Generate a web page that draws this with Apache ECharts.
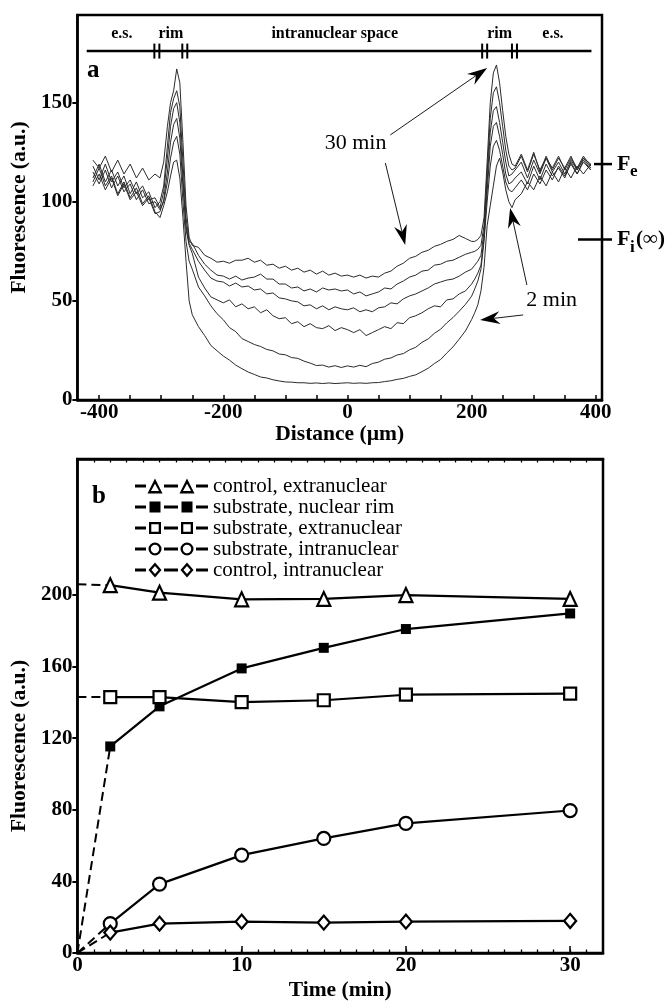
<!DOCTYPE html>
<html><head><meta charset="utf-8">
<script src="https://cdn.jsdelivr.net/npm/echarts@6/dist/echarts.min.js"></script>
<style>html,body{margin:0;padding:0;background:#fff}#c{width:669px;height:1002px}</style>
</head><body><div id="c"></div>
<script>
// ---------- Panel a: fluorescence profiles ----------
const distance = [-410,-400,-390,-380,-370,-360,-350,-340,-330,-320,-310,
  -302,-296,-290,-285,-280,-275,-270,-265,-260,-255,-250,
  -240,-230,-220,-210,-200,-190,-180,-170,-160,-150,-140,-130,-120,-110,-100,-90,-80,-70,-60,-50,-40,-30,-20,-10,0,10,20,30,40,50,60,70,80,90,100,110,120,130,140,150,160,170,180,190,200,
  205,210,215,220,225,230,235,240,245,250,255,260,265,270,
  280,290,300,310,320,330,340,350,360,370,380,392];
const trace2min = [110,117,108,113,104,110,102,107,99,103,95,
  92,98,105,113,120,121,112,92,70,50,43,
  37,32.5,27.5,24.8,22.2,20.1,17.6,15.8,14.1,12.9,11.6,11.1,10.2,9.6,9.1,9.0,8.7,8.7,8.4,8.6,8.3,8.6,8.3,8.5,8.7,8.4,8.6,8.4,8.7,8.8,9.3,9.7,10.4,10.9,11.9,12.7,14.3,16.0,18.4,20.4,23.7,26.8,30.7,34.8,40.6,
  44,48,55,67,88,98,108,118,122,115,106,100,97,101,
  104,110,106,113,108,115,110,117,112,118,114,119];
const trace5min = [115,109,116,107,113,105,109,101,106,99,100,
  96,100,110,122,130,133,124,100,80,70,66,
  57,52.5,47.5,43.5,40.5,36.5,34.5,31,29.5,28,27,25.5,24.8,23.2,22.8,21.4,21,19.6,18.6,17.4,17.6,16.6,17.3,16.4,17.2,16.6,17.5,16.8,18.4,19.1,20.6,21.2,22.7,23.4,25.3,26.6,29.1,30.8,33.6,35.7,38.9,41.6,44.8,48.2,52.4,
  56,60,66,80,100,118,128,131,126,118,110,106,105,107,
  111,106,114,109,116,111,118,113,119,114,120,116];
const trace10min = [108,114,106,112,103,109,101,105,98,102,94,
  95,101,115,130,139,142,132,108,86,78,74,
  62,56.5,52,50.5,49,50.5,47,48.5,46,47,44,45.5,42.5,41,41.5,38.5,39.5,37,38.5,36.5,36,37.5,35,36.5,35.5,34,35.5,32.5,34,35.5,37,36,39,38.5,41.5,42.5,44,46,47.5,47,50.5,51,53.5,55,58.5,
  61,64,68,82,105,128,138,140,133,124,114,109,110,112,
  115,109,118,111,119,113,117,112,120,114,121,116];
const trace15min = [118,111,119,110,115,107,111,104,108,101,102,
  97,105,122,138,147,150,140,112,88,79,76,
  70,65.5,61.5,60,59.5,57.5,59,57,57.5,55.5,56,53.5,54,51.5,51,50,49.5,47.5,48,46,47.5,45.5,47,46,45.5,46.5,44.5,45.5,44.5,46.5,47,49,48.5,51,52.5,53.5,55,56.5,58.5,59.5,60.5,61,62.5,64.5,66,
  68,70,73,85,110,135,146,148,140,130,120,113,114,116,
  120,112,121,114,122,115,120,114,121,116,122,117];
const trace20min = [112,119,110,116,108,113,104,110,102,105,97,
  100,108,128,145,152,156,148,120,92,80,79,
  73,68.5,65.5,63,62.5,61,62.5,60.5,61.5,62,63.5,61,61,58.5,58.5,56.5,57,55,56,54.5,56.5,55.5,56,55,55.5,53.5,54.5,52.5,53.5,54.5,56.5,56,58.5,60,62,63,65,65.5,68,68.5,70,70.5,72,73.5,74.5,
  75,76,78,88,115,142,155,158,150,138,126,118,116,117,
  123,115,124,116,122,117,123,116,122,117,123,118];
const trace30min = [121,117,123,115,121,114,119,112,117,111,114,
  112,120,138,150,156,167,160,130,98,82,78,
  77,73,71.5,69.5,70,69,70.5,70.5,71.5,69.5,70.5,68,68.5,66.5,67.5,65.5,66.5,64.5,65.5,63.5,65,63,64,62.5,63,62,63,61.5,62.5,62,64,65,67.5,69,71.5,72.5,74.5,75.5,77.5,78.5,80,81,83,81.5,80,
  80,81,83,92,120,150,165,169,160,146,133,124,119,118,
  124,116,125,115,123,116,122,117,123,116,122,119];
const traceNames = ['2 min','5 min','10 min','15 min','20 min','30 min'];
const distanceLabels = [-400,-200,0,200,400];
const distanceTickMarks = [-400,-350,-300,-250,-200,-150,-100,-50,0,50,100,150,200,250,300,350,400];
const fluorLabelsA = [0,50,100,150];
const regionBounds = [-420,-307,-262,221,269,393];
const regionLabels = ['e.s.','rim','intranuclear space','rim','e.s.'];
const regionLevel = 176;
const refLevels = [119, 81];
const refLabels = [['F','e',''],['F','i','(\u221E)']];
const arrowLines = [[69,133.7,225,167.5],[61,119.6,93,78.2],[289,58,262,96.9],[283,42.9,213.6,40.4]];
const arrowTexts = [[13,129.7,'30 min'],[329,50.5,'2 min']];

// ---------- Panel b: time courses ----------
const times = [2,5,10,15,20,30];
const controlExtra = [205.5,201.3,197.6,197.8,200,197.8];
const nuclearRim = [115.4,137.8,159,170.5,181,189.7];
const substrateExtra = [143,143,140.2,141.2,144.3,144.9];
const substrateIntra = [16.4,38.5,54.7,64,72.4,79.6];
const controlIntra = [11.4,16.4,17.5,17,17.5,17.9];
const valuesAtZero = [206,0,143,0,0];
const bNames = ['control, extranuclear','substrate, nuclear rim','substrate, extranuclear','substrate, intranuclear','control, intranuclear'];
const timeLabels = [0,10,20,30];
const timeMinor = [0,1,2,3,4,5,6,7,8,9,10,11,12,13,14,15,16,17,18,19,20,21,22,23,24,25,26,27,28,29,30,31];
const fluorLabelsB = [0,40,80,120,160,200];

// ---------- styling / layout ----------
const SERIF = '"Liberation Serif","Times New Roman",serif';
const X_A = [-435, 410], Y_A = [0, 194.2], X_B = [0, 32], Y_B = [0, 276];
const traces = [trace2min,trace5min,trace10min,trace15min,trace20min,trace30min];
const bValues = [controlExtra,nuclearRim,substrateExtra,substrateIntra,controlIntra];
const bSym = [
  {symbol:'triangle', size:[13,14], fill:'#fff'},
  {symbol:'rect', size:10, fill:'#000'},
  {symbol:'rect', size:12, fill:'#fff'},
  {symbol:'circle', size:13, fill:'#fff'},
  {symbol:'diamond', size:[12,14], fill:'#fff'}
];
// legend icons: "-S-S-" dashes with two markers (ring paths for hollow markers)
function dashes(){ return 'M0 6H11V9H0Z M29 6H43V9H29Z M61 6H73V9H61Z '; }
function triP(c){ return `M${c} 0L${c+7.5} 15L${c-7.5} 15Z M${c} 5.3L${c-4} 12.6L${c+4} 12.6Z `; }
function sqF(c){ return `M${c-5.5} 2H${c+5.5}V13H${c-5.5}Z `; }
function sqO(c){ return `M${c-6} 1.5H${c+6}V13.5H${c-6}Z M${c-3.7} 3.8V11.2H${c+3.7}V3.8Z `; }
function cirP(c){ return `M${c-6.5} 7.5A6.5 6.5 0 1 1 ${c+6.5} 7.5A6.5 6.5 0 1 1 ${c-6.5} 7.5Z M${c-4.2} 7.5A4.2 4.2 0 1 0 ${c+4.2} 7.5A4.2 4.2 0 1 0 ${c-4.2} 7.5Z `; }
function diaP(c){ return `M${c} 0L${c+6.5} 7.5L${c} 15L${c-6.5} 7.5Z M${c} 3.4L${c-3.5} 7.5L${c} 11.6L${c+3.5} 7.5Z `; }
const iconFns = [triP, sqF, sqO, cirP, diaP];
const icons = iconFns.map(f => 'path://' + dashes() + f(20) + f(52));

const txt = (text, x, y, font, align, valign) => ({type:'text', style:{text, x, y, font, fill:'#000', align, verticalAlign:valign, textAlign:align, textVerticalAlign:valign}});

const series = [];
traces.forEach((vals, i) => {
  series.push({type:'line', name:traceNames[i], xAxisIndex:0, yAxisIndex:0,
    data: distance.map((d, j) => [d, vals[j]]), symbol:'none', silent:true,
    lineStyle:{color:'#2b2b2b', width:1}, z:2});
});
// region bar
series.push({type:'custom', xAxisIndex:0, yAxisIndex:0, data:[[0, regionLevel]], clip:false, silent:true, z:6,
  renderItem(params, api){
    const ch = [];
    const p0 = api.coord([regionBounds[0], regionLevel]);
    const p1 = api.coord([regionBounds[regionBounds.length-1], regionLevel]);
    ch.push({type:'line', shape:{x1:p0[0], y1:p0[1], x2:p1[0], y2:p1[1]}, style:{stroke:'#000', lineWidth:2.5}});
    for (let i = 1; i < regionBounds.length-1; i++){
      const bx = api.coord([regionBounds[i], regionLevel])[0];
      [-2.5, 2.5].forEach(d => ch.push({type:'line', shape:{x1:bx+d, y1:p0[1]-7.5, x2:bx+d, y2:p0[1]+7.5}, style:{stroke:'#000', lineWidth:2}}));
    }
    for (let i = 0; i < regionLabels.length; i++){
      const cx = api.coord([(regionBounds[i]+regionBounds[i+1])/2, regionLevel])[0];
      ch.push(txt(regionLabels[i], cx, p0[1]-17, 'bold 16px ' + SERIF, 'center', 'middle'));
    }
    return {type:'group', children:ch};
  }});
// reference levels on the right
series.push({type:'custom', xAxisIndex:0, yAxisIndex:0, data: refLevels.map(v => [X_A[1], v]), clip:false, silent:true, z:6,
  renderItem(params, api){
    const p = api.coord([api.value(0), api.value(1)]);
    const i = params.dataIndex; const lab = refLabels[i];
    const left = i === 0 ? 8 : 24;
    return {type:'group', children:[
      {type:'line', shape:{x1:p[0]-left, y1:p[1], x2:p[0]+10, y2:p[1]}, style:{stroke:'#000', lineWidth:2.5}},
      txt(lab[0], p[0]+15, p[1], 'bold 22px ' + SERIF, 'left', 'middle'),
      txt(lab[1], p[0]+28, p[1]+8, 'bold 17px ' + SERIF, 'left', 'middle'),
      txt(lab[2], p[0]+34, p[1], 'bold 21px ' + SERIF, 'left', 'middle')
    ]};
  }});
// arrows
series.push({type:'custom', xAxisIndex:0, yAxisIndex:0, data: arrowLines, clip:false, silent:true, z:7,
  renderItem(params, api){
    const s = api.coord([api.value(0), api.value(1)]);
    const t = api.coord([api.value(2), api.value(3)]);
    const dx = t[0]-s[0], dy = t[1]-s[1], len = Math.hypot(dx, dy);
    const ux = dx/len, uy = dy/len, nx = -uy, ny = ux;
    const L = 20, W = 13;
    const b = [t[0]-ux*L, t[1]-uy*L], n = [t[0]-ux*L*0.68, t[1]-uy*L*0.68];
    return {type:'group', children:[
      {type:'line', shape:{x1:s[0], y1:s[1], x2:n[0], y2:n[1]}, style:{stroke:'#000', lineWidth:0.9}},
      {type:'polygon', shape:{points:[t, [b[0]+nx*W/2, b[1]+ny*W/2], n, [b[0]-nx*W/2, b[1]-ny*W/2]]}, style:{fill:'#000'}}
    ]};
  }});
series.push({type:'custom', xAxisIndex:0, yAxisIndex:0, data: arrowTexts.map(a => [a[0], a[1]]), clip:false, silent:true, z:7,
  renderItem(params, api){
    const p = api.coord([api.value(0), api.value(1)]);
    return txt(arrowTexts[params.dataIndex][2], p[0], p[1], '22px ' + SERIF, 'center', 'middle');
  }});
// panel b
bValues.forEach((vals, i) => {
  const sp = bSym[i];
  series.push({type:'line', name:bNames[i], xAxisIndex:1, yAxisIndex:1, data: times.map((t, j) => [t, vals[j]]),
    symbol: sp.symbol, symbolSize: sp.size, showAllSymbol:true, silent:true,
    lineStyle:{color:'#000', width:2.2},
    itemStyle:{color: sp.fill, borderColor:'#000', borderWidth: sp.fill === '#fff' ? 2.2 : 0, opacity:1}, z:4});
  series.push({type:'line', xAxisIndex:1, yAxisIndex:1, data:[[0, valuesAtZero[i]], [times[0], vals[0]]],
    symbol:'none', silent:true, lineStyle:{color:'#000', width:2, type:[9,5]}, z:3});
});

const labelStyle = {color:'#000', fontFamily:SERIF, fontWeight:'bold', fontSize:21};
const nameStyle = {color:'#000', fontFamily:SERIF, fontWeight:'bold', fontSize:21.5};
const axisLine = {show:true, onZero:false, lineStyle:{color:'#000', width:2.5}};
const noLine = {show:false};

const option = {
  animation:false,
  backgroundColor:'#fff',
  grid:[
    {left:76, right:67, top:15, height:385, show:true, borderColor:'#000', borderWidth:2.5, backgroundColor:'transparent'},
    {left:76, right:66, top:459, height:494, show:true, borderColor:'#000', borderWidth:2.5, backgroundColor:'transparent'}
  ],
  xAxis:[
    {gridIndex:0, type:'value', position:'bottom', min:X_A[0], max:X_A[1], axisLine,
      axisTick:{show:true, inside:true, length:5, customValues:distanceTickMarks, lineStyle:{color:'#000', width:1.5}},
      axisLabel:{...labelStyle, customValues:distanceLabels, margin:2, formatter:v => String(v)},
      splitLine:{show:false}, name:'Distance (\u00B5m)', nameLocation:'middle', nameGap:21, nameTextStyle:nameStyle},
    {gridIndex:1, type:'value', position:'bottom', min:X_B[0], max:X_B[1], axisLine,
      axisTick:{show:true, inside:true, length:7, customValues:timeLabels, lineStyle:{color:'#000', width:1.5}},
      axisLabel:{...labelStyle, customValues:timeLabels, margin:2},
      splitLine:{show:false}, name:'Time (min)', nameLocation:'middle', nameGap:26, nameTextStyle:nameStyle},
    {gridIndex:1, type:'value', position:'bottom', min:X_B[0], max:X_B[1], axisLine:noLine,
      axisTick:{show:true, inside:true, length:3.5, customValues:timeMinor, lineStyle:{color:'#000', width:1.3}},
      axisLabel:{show:false}, splitLine:{show:false}},
    {gridIndex:1, type:'value', position:'top', min:X_B[0], max:X_B[1], axisLine,
      axisTick:{show:true, inside:true, length:3.5, customValues:timeMinor, lineStyle:{color:'#000', width:1.3}},
      axisLabel:{show:false}, splitLine:{show:false}}
  ],
  yAxis:[
    {gridIndex:0, type:'value', min:Y_A[0], max:Y_A[1], axisLine,
      axisTick:{show:true, length:5, customValues:fluorLabelsA, lineStyle:{color:'#000', width:2}},
      axisLabel:{...labelStyle, customValues:fluorLabelsA, margin:5},
      splitLine:{show:false}, name:'Fluorescence (a.u.)', nameLocation:'middle', nameGap:42, nameRotate:90, nameTextStyle:nameStyle},
    {gridIndex:1, type:'value', min:Y_B[0], max:Y_B[1], axisLine,
      axisTick:{show:true, length:5, customValues:fluorLabelsB, lineStyle:{color:'#000', width:2}},
      axisLabel:{...labelStyle, customValues:fluorLabelsB, margin:5},
      splitLine:{show:false}, name:'Fluorescence (a.u.)', nameLocation:'middle', nameGap:42, nameRotate:90,
      nameTextStyle:{...nameStyle, padding:[0,80,0,0]}}
  ],
  legend:{
    orient:'vertical', left:130, top:470.5, itemWidth:73, itemHeight:15, itemGap:0, selectedMode:false,
    textStyle:{color:'#000', fontFamily:SERIF, fontSize:21, lineHeight:19},
    data: bNames.map((n, i) => ({name:n, icon:icons[i], itemStyle:{color:'#000', borderColor:'#000', borderWidth:0}}))
  },
  graphic:[
    {type:'text', left:87, top:58, style:{text:'a', font:'bold 25px ' + SERIF, fill:'#000'}},
    {type:'text', left:92, top:484, style:{text:'b', font:'bold 25px ' + SERIF, fill:'#000'}}
  ],
  series
};
const chart = echarts.init(document.getElementById('c'), null, {renderer:'canvas', width:669, height:1002});
chart.setOption(option);
</script>
</body></html>
